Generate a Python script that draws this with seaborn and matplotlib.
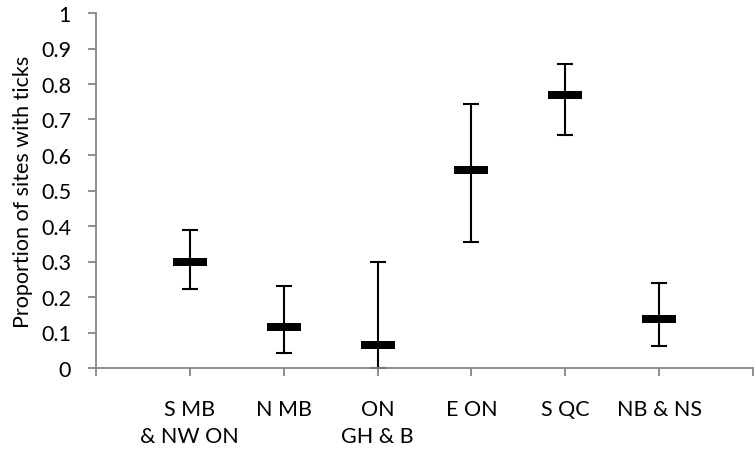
import matplotlib
matplotlib.use("Agg")
import matplotlib.pyplot as plt
import matplotlib.transforms as mtransforms
import seaborn as sns
import pandas as pd
import numpy as np

categories = ["S MB\n& NW ON", "N MB", "ON\nGH & B", "E ON", "S QC", "NB & NS"]
proportion = [0.300, 0.115, 0.066, 0.558, 0.769, 0.138]
upper = [0.389, 0.230, 0.300, 0.744, 0.857, 0.240]
lower = [0.222, 0.041, 0.000, 0.356, 0.655, 0.063]

sns.set_theme(style="white")
plt.rcParams['font.family'] = ['Lato', 'DejaVu Sans']

df = pd.DataFrame({"pos": np.arange(1, len(categories) + 1),
                   "category": categories,
                   "proportion": proportion,
                   "upper": upper,
                   "lower": lower})

fig = plt.figure(figsize=(7.55, 4.52), dpi=100)
ax = fig.add_axes([96/755, 83/452, (753-96)/755, (369-14)/452])

ax.errorbar(df["pos"], df["proportion"],
            yerr=[df["proportion"] - df["lower"], df["upper"] - df["proportion"]],
            fmt="none", ecolor="black", elinewidth=1.5, capsize=6, capthick=1.5, zorder=2)

rect = [(-0.5, -0.12), (0.5, -0.12), (0.5, 0.12), (-0.5, 0.12)]
sns.scatterplot(data=df, x="pos", y="proportion", marker=rect, s=570,
                color="black", linewidth=0, ax=ax, zorder=3, legend=False)

ax.set_xlim(0, 7)
ax.set_ylim(0, 1)
ax.set_xticks(np.arange(0, 8))
ax.set_xticklabels([""] + categories + [""], fontsize=15.5, color="black", linespacing=1.45)
ax.set_yticks(np.arange(0, 1.01, 0.1))
ax.set_yticklabels(["0"] + [f"{v:.1f}" for v in np.arange(0.1, 0.95, 0.1)] + ["1"], fontsize=15.5, color="black")
ax.set_xlabel("")
ax.set_ylabel("Proportion of sites with ticks", fontsize=15.5, color="black", labelpad=6)

offset = mtransforms.ScaledTranslation(6/100, 0, fig.dpi_scale_trans)
for lbl in ax.get_xticklabels():
    lbl.set_transform(lbl.get_transform() + offset)

gray = "#868686"
for s in ["top", "right"]:
    ax.spines[s].set_visible(False)
for s in ["left", "bottom"]:
    ax.spines[s].set_color(gray)
    ax.spines[s].set_linewidth(1.3)
ax.tick_params(axis="both", direction="out", length=6, width=1.3, color=gray)
ax.tick_params(axis="y", pad=12, left=True)
ax.tick_params(axis="x", pad=16, bottom=True)
ax.grid(False)

fig.savefig("out.png", dpi=100)
